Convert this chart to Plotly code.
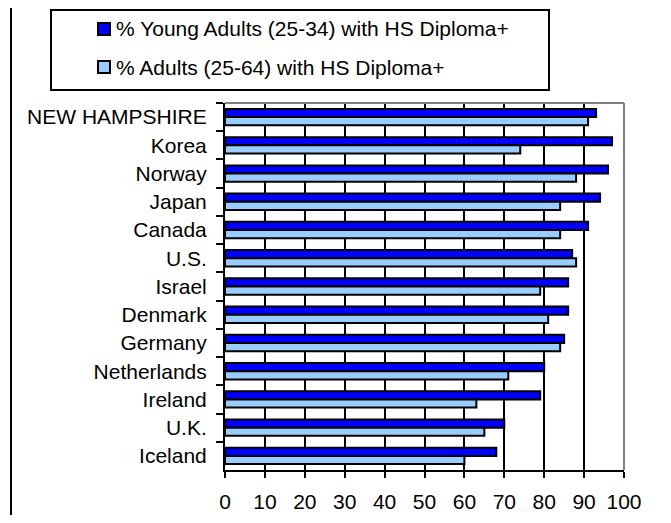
import plotly.graph_objects as go

countries = ["NEW HAMPSHIRE", "Korea", "Norway", "Japan", "Canada", "U.S.", "Israel",
             "Denmark", "Germany", "Netherlands", "Ireland", "U.K.", "Iceland"]
young_adults = [93, 97, 96, 94, 91, 87, 86, 86, 85, 80, 79, 70, 68]
all_adults = [91, 74, 88, 84, 84, 88, 79, 81, 84, 71, 63, 65, 60]
x_ticks = [0, 10, 20, 30, 40, 50, 60, 70, 80, 90, 100]
series_names = ["% Young Adults (25-34) with HS Diploma+", "% Adults (25-64) with HS Diploma+"]
series_colors = ["#0000FF", "#99CCFF"]

# page body has an 8px margin, so the figure is drawn 8px in from the window edge;
# keep the page small enough that no scrollbars appear
OFF = 8
W, H = 658, 523 - 2 * OFF
# plot area in window pixels: x 225..624, y 103..470
L, T = 225 - OFF, 103 - OFF
R = (W + OFF) - 624
B = (H + OFF) - 470
pw, ph = W - L - R, H - T - B

def px_x(p):
    return (p - OFF - L) / pw

def px_y(p):
    return (H - B - (p - OFF)) / ph

FONT = "Liberation Sans, Arial, sans-serif"
FS = 21

fig = go.Figure()
for name, vals, col in zip(series_names, [young_adults, all_adults], series_colors):
    fig.add_trace(go.Bar(
        y=countries, x=vals, orientation="h", name=name,
        marker=dict(color=col, line=dict(color="black", width=2)),
        showlegend=False,
    ))

shapes = [
    # gray top and right plot border
    dict(type="line", xref="paper", yref="paper", x0=0, x1=1, y0=1, y1=1,
         line=dict(color="#808080", width=2), layer="above"),
    dict(type="line", xref="paper", yref="paper", x0=1, x1=1, y0=0, y1=1,
         line=dict(color="#808080", width=2), layer="above"),
    # legend box
    dict(type="rect", xref="paper", yref="paper",
         x0=px_x(51), x1=px_x(549), y0=px_y(90), y1=px_y(10),
         line=dict(color="black", width=2), fillcolor="rgba(0,0,0,0)"),
    # outer chart border
    dict(type="rect", xref="paper", yref="paper",
         x0=px_x(11), x1=px_x(664), y0=px_y(540), y1=px_y(-5),
         line=dict(color="black", width=2), fillcolor="rgba(0,0,0,0)"),
]
annotations = []
legend_rows = [29, 67]
for name, col, cy in zip(series_names, series_colors, legend_rows):
    shapes.append(dict(type="rect", xref="paper", yref="paper",
                       x0=px_x(98), x1=px_x(110), y0=px_y(cy + 6), y1=px_y(cy - 6),
                       line=dict(color="black", width=2), fillcolor=col))
    annotations.append(dict(xref="paper", yref="paper", x=px_x(114), y=px_y(cy),
                            xanchor="left", yanchor="middle", showarrow=False,
                            text=name, font=dict(family=FONT, size=FS, color="black")))

fig.update_layout(
    width=W, height=H,
    margin=dict(l=L, r=R, t=T, b=B, pad=0),
    paper_bgcolor="white", plot_bgcolor="white",
    font=dict(family=FONT, size=FS, color="black"),
    barmode="group", bargap=0.42, bargroupgap=0,
    showlegend=False,
    xaxis=dict(
        range=[0, 100], tickmode="linear", tick0=0, dtick=10,
        showgrid=True, gridcolor="black", gridwidth=2,
        showline=True, linecolor="black", linewidth=2,
        ticks="outside", ticklen=6, tickwidth=2, tickcolor="black",
        zeroline=False, fixedrange=True, ticklabelstandoff=6, automargin=False,
        tickfont=dict(family=FONT, size=FS, color="black"),
    ),
    yaxis=dict(
        type="category", categoryorder="array", categoryarray=countries,
        autorange="reversed", fixedrange=True, automargin=False,
        showgrid=False, showline=True, linecolor="black", linewidth=2,
        ticks="outside", ticklen=7, tickwidth=2, tickcolor="black",
        tickson="boundaries", ticklabelstandoff=12,
        tickfont=dict(family=FONT, size=FS, color="black"),
    ),
    shapes=shapes,
    annotations=annotations,
)

fig.write_html("out.html")
